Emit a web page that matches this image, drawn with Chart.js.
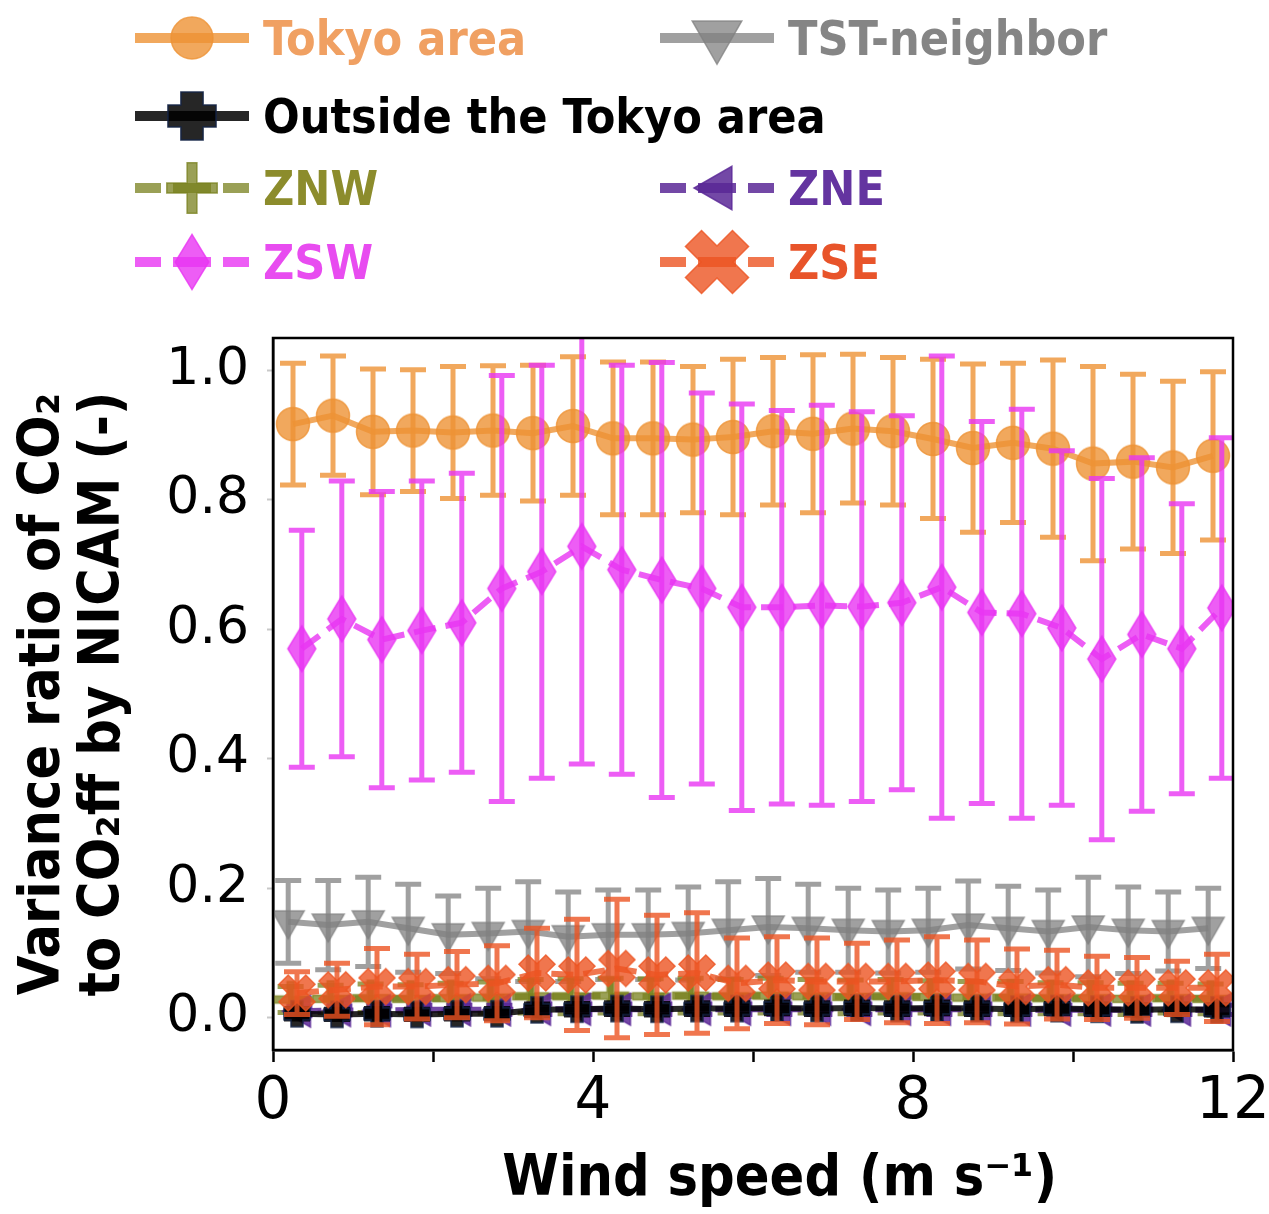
<!DOCTYPE html>
<html>
<head>
<meta charset="utf-8">
<script src="https://cdn.jsdelivr.net/npm/chart.js@4.4.1/dist/chart.umd.min.js"></script>
<style>
    body { margin: 0; background: #fff; }
    #wrap { position: relative; width: 1269px; height: 1214px; }
    #chart { position: absolute; left: 0; top: 0; }
    .leg {
        position: absolute;
        display: flex;
        align-items: center;
        height: 80px;
        font-family: "DejaVu Sans Condensed", "DejaVu Sans", sans-serif;
        font-weight: bold;
        font-size: 48px;
        white-space: nowrap;
    }
    .leg canvas { margin-right: 14px; }
</style>
</head>
<body>
<div id="wrap">
    <canvas id="chart" width="1269" height="1214"></canvas>
    <div id="legend"></div>
</div>
<script>
"use strict";

// Vindhastighetsklasser (mittpunkt, m/s)
const windBins = [0.25, 0.75, 1.25, 1.75, 2.25, 2.75, 3.25, 3.75, 4.25, 4.75, 5.25, 5.75,
                  6.25, 6.75, 7.25, 7.75, 8.25, 8.75, 9.25, 9.75, 10.25, 10.75, 11.25, 11.75];

const tokyoMean = [0.917, 0.930, 0.905, 0.907, 0.904, 0.907, 0.903, 0.914, 0.895, 0.895, 0.893, 0.897,
                   0.906, 0.902, 0.910, 0.906, 0.894, 0.880, 0.888, 0.879, 0.856, 0.859, 0.850, 0.868];
const tokyoStd = [0.094, 0.092, 0.097, 0.094, 0.102, 0.100, 0.105, 0.107, 0.118, 0.118, 0.113, 0.120,
                  0.114, 0.122, 0.115, 0.114, 0.123, 0.130, 0.123, 0.137, 0.150, 0.135, 0.133, 0.130];

const tstMean = [0.148, 0.143, 0.148, 0.138, 0.128, 0.130, 0.133, 0.125, 0.128, 0.128, 0.130, 0.135,
                 0.140, 0.138, 0.135, 0.133, 0.135, 0.143, 0.138, 0.133, 0.140, 0.135, 0.133, 0.138];
const tstStd = [0.064, 0.069, 0.069, 0.068, 0.060, 0.070, 0.077, 0.069, 0.069, 0.069, 0.072, 0.075,
                0.075, 0.068, 0.065, 0.064, 0.065, 0.068, 0.065, 0.064, 0.077, 0.067, 0.061, 0.062];

const outsideMean = [0.006, 0.005, 0.006, 0.005, 0.006, 0.006, 0.012, 0.013, 0.014, 0.013, 0.014, 0.014,
                     0.015, 0.014, 0.015, 0.014, 0.015, 0.014, 0.013, 0.014, 0.013, 0.012, 0.013, 0.012];
const outsideStd = [0.008, 0.008, 0.008, 0.008, 0.008, 0.008, 0.009, 0.009, 0.009, 0.009, 0.009, 0.009,
                    0.009, 0.009, 0.009, 0.009, 0.009, 0.009, 0.008, 0.008, 0.008, 0.008, 0.008, 0.008];

const znwMean = [0.028, 0.029, 0.030, 0.029, 0.030, 0.031, 0.033, 0.033, 0.034, 0.033, 0.034, 0.033,
                 0.034, 0.033, 0.032, 0.033, 0.032, 0.031, 0.031, 0.030, 0.030, 0.029, 0.030, 0.029];
const znwStd = [0.020, 0.021, 0.022, 0.022, 0.023, 0.024, 0.026, 0.027, 0.027, 0.027, 0.027, 0.026,
                0.027, 0.026, 0.026, 0.026, 0.025, 0.025, 0.025, 0.024, 0.024, 0.024, 0.023, 0.023];

const zneMean = [0.010, 0.011, 0.011, 0.012, 0.012, 0.012, 0.013, 0.013, 0.013, 0.013, 0.013, 0.013,
                 0.013, 0.013, 0.013, 0.013, 0.013, 0.013, 0.012, 0.012, 0.012, 0.012, 0.012, 0.012];
const zneStd = [0.007, 0.007, 0.007, 0.007, 0.007, 0.007, 0.008, 0.008, 0.008, 0.008, 0.008, 0.008,
                0.008, 0.008, 0.008, 0.008, 0.008, 0.008, 0.007, 0.007, 0.007, 0.007, 0.007, 0.007];

const zswMean = [0.570, 0.616, 0.584, 0.598, 0.610, 0.663, 0.689, 0.728, 0.692, 0.676, 0.663, 0.634,
                 0.634, 0.637, 0.635, 0.641, 0.665, 0.626, 0.624, 0.602, 0.554, 0.592, 0.570, 0.633];
const zswStd = [0.183, 0.213, 0.229, 0.231, 0.231, 0.329, 0.319, 0.336, 0.316, 0.336, 0.302, 0.314,
                0.304, 0.309, 0.301, 0.289, 0.357, 0.295, 0.316, 0.274, 0.279, 0.273, 0.224, 0.263];

const zseMean = [0.038, 0.043, 0.048, 0.048, 0.051, 0.053, 0.069, 0.066, 0.076, 0.066, 0.069, 0.053,
                 0.058, 0.056, 0.056, 0.056, 0.058, 0.056, 0.048, 0.051, 0.046, 0.046, 0.046, 0.046];
const zseStd = [0.033, 0.041, 0.059, 0.050, 0.051, 0.058, 0.069, 0.086, 0.107, 0.092, 0.093, 0.070,
                0.067, 0.067, 0.059, 0.064, 0.067, 0.064, 0.058, 0.053, 0.049, 0.047, 0.041, 0.052];

const xTicks = [0, 2, 4, 6, 8, 10, 12];
const xLabelled = [0, 4, 8, 12];
const yTicks = [0, 0.2, 0.4, 0.6, 0.8, 1.0];

// Serier i legendordning; z = ritordning (högre hamnar överst)
const series = [
    { label: "Tokyo area", mean: tokyoMean, std: tokyoStd, shift: 0, z: 0, color: "rgba(238,146,52,0.8)",
      text: "#f0a062", shape: "circle", dashed: false, legendScale: 1.27 },
    { label: "TST-neighbor", mean: tstMean, std: tstStd, shift: -0.06, z: 1, color: "rgba(128,128,128,0.75)",
      text: "#858585", shape: "triDown", dashed: false, legendScale: 1.55 },
    { label: "Outside the Tokyo area", mean: outsideMean, std: outsideStd, shift: 0.05, z: 4, color: "rgba(0,0,0,0.85)",
      edge: "rgba(20,35,70,0.9)", text: "#000", shape: "plusFilled", dashed: false, legendScale: 1.85 },
    { label: "ZNW", mean: znwMean, std: znwStd, shift: -0.03, z: 2, color: "rgba(120,128,30,0.75)",
      text: "#8c8c2c", shape: "plus", dashed: true, legendScale: 1.4 },
    { label: "ZNE", mean: zneMean, std: zneStd, shift: 0.08, z: 3, color: "rgba(90,40,150,0.85)",
      text: "#6434a0", shape: "triLeft", dashed: true, legendScale: 1.35 },
    { label: "ZSW", mean: zswMean, std: zswStd, shift: 0.11, z: 5, color: "rgba(232,52,242,0.8)",
      text: "#e84cf0", shape: "diamond", dashed: true, legendScale: 1.2 },
    { label: "ZSE", mean: zseMean, std: zseStd, shift: 0.05, z: 6, color: "rgba(236,84,34,0.8)",
      text: "#e8542a", shape: "xFilled", dashed: true, legendScale: 1.75 }
];

// Legendens placering (kolumn x, rad y)
const legendPos = [[135, 38], [660, 38], [135, 116], [135, 188], [660, 188], [135, 262], [660, 262]];

function polygon(ctx, pts, cx, cy, k, rot) {
    const c = Math.cos(rot), s = Math.sin(rot);
    pts.forEach(([px, py], i) => {
        const x = cx + k * (px * c - py * s);
        const y = cy + k * (px * s + py * c);
        if (i === 0) ctx.moveTo(x, y); else ctx.lineTo(x, y);
    });
    ctx.closePath();
}

function plusPts(a, t) {
    return [[t, a], [t, t], [a, t], [a, -t], [t, -t], [t, -a], [-t, -a], [-t, -t], [-a, -t], [-a, t], [-t, t], [-t, a]];
}

function drawMarker(ctx, s, cx, cy, k) {
    ctx.fillStyle = s.color;
    ctx.strokeStyle = s.edge || s.color;
    ctx.lineWidth = 1.5;
    ctx.setLineDash([]);
    ctx.beginPath();
    switch (s.shape) {
        case "circle": ctx.arc(cx, cy, 16.5 * k, 0, Math.PI * 2); break;
        case "triDown": polygon(ctx, [[-16, -11], [16, -11], [0, 17]], cx, cy, k, 0); break;
        case "triLeft": polygon(ctx, [[11, -16], [11, 16], [-17, 0]], cx, cy, k, 0); break;
        case "diamond": polygon(ctx, [[0, -23], [14, 0], [0, 23], [-14, 0]], cx, cy, k, 0); break;
        case "plusFilled": polygon(ctx, plusPts(13, 6), cx, cy, k, 0); break;
        case "plus": polygon(ctx, plusPts(18, 3.5), cx, cy, k, 0); break;
        case "xFilled": polygon(ctx, plusPts(19, 6.5), cx, cy, k, Math.PI / 4); break;
    }
    ctx.fill();
    ctx.stroke();
}

function markerCanvas(s) {
    const c = document.createElement("canvas");
    c.width = 60;
    c.height = 60;
    drawMarker(c.getContext("2d"), s, 30, 30, 1);
    return c;
}

function legendIcon(s) {
    const c = document.createElement("canvas");
    c.width = 114;
    c.height = 80;
    const ctx = c.getContext("2d");
    ctx.strokeStyle = s.color;
    ctx.lineWidth = 10;
    ctx.setLineDash(s.dashed ? [26, 12, 38, 12, 26] : []);
    ctx.beginPath();
    ctx.moveTo(0, 40);
    ctx.lineTo(114, 40);
    ctx.stroke();
    drawMarker(ctx, s, 57, 40, s.legendScale);
    return c;
}

// Felstaplar ritas före varje serie, via diagrammets egna skalor
const errorBars = {
    id: "errorBars",
    beforeDatasetDraw(chart, args) {
        const ds = chart.data.datasets[args.index];
        if (!ds.errors) return;
        const { ctx, chartArea, scales } = chart;
        ctx.save();
        ctx.beginPath();
        ctx.rect(chartArea.left, chartArea.top, chartArea.width, chartArea.height);
        ctx.clip();
        ctx.strokeStyle = ds.borderColor;
        ctx.lineWidth = 5;
        ctx.setLineDash([]);
        ds.data.forEach((p, i) => {
            const x = scales.x.getPixelForValue(p.x);
            const top = scales.y.getPixelForValue(p.y + ds.errors[i]);
            const bot = scales.y.getPixelForValue(p.y - ds.errors[i]);
            ctx.beginPath();
            ctx.moveTo(x, top);
            ctx.lineTo(x, bot);
            ctx.moveTo(x - 13, top);
            ctx.lineTo(x + 13, top);
            ctx.moveTo(x - 13, bot);
            ctx.lineTo(x + 13, bot);
            ctx.stroke();
        });
        ctx.restore();
    }
};

// Ram runt ritytan
const frame = {
    id: "frame",
    afterDatasetsDraw(chart) {
        const { ctx, chartArea } = chart;
        ctx.save();
        ctx.strokeStyle = "#000";
        ctx.lineWidth = 2.5;
        ctx.strokeRect(chartArea.left, chartArea.top, chartArea.width, chartArea.height);
        ctx.restore();
    }
};

const datasets = series.map(s => ({
    label: s.label,
    data: windBins.map((w, j) => ({ x: w + s.shift, y: s.mean[j] })),
    errors: s.std,
    borderColor: s.color,
    borderWidth: 6,
    borderDash: s.dashed ? [22, 10] : [],
    pointStyle: markerCanvas(s),
    pointRadius: 16,
    tension: 0,
    order: 10 - s.z
}));

const titleFont = { family: "'DejaVu Sans Condensed', 'DejaVu Sans'", size: 57, weight: "bold", lineHeight: 1.05 };

new Chart(document.getElementById("chart"), {
    type: "line",
    data: { datasets },
    options: {
        responsive: false,
        animation: false,
        devicePixelRatio: 1,
        layout: { padding: { top: 338, right: 36, left: 0, bottom: 0 } },
        plugins: { legend: { display: false }, tooltip: { enabled: false } },
        scales: {
            x: {
                type: "linear",
                min: 0,
                max: 12,
                afterBuildTicks: scale => { scale.ticks = xTicks.map(v => ({ value: v })); },
                afterFit: scale => {
                    scale.height = 164;
                    scale.paddingLeft = 0;
                    scale.paddingRight = 0;
                },
                grid: { drawOnChartArea: false, tickLength: 12, tickWidth: 2.5, tickColor: "#000" },
                border: { color: "#000", width: 2.5 },
                ticks: {
                    callback: v => xLabelled.includes(v) ? String(v) : "",
                    font: { family: "'DejaVu Sans'", size: 58 },
                    color: "#000",
                    padding: 6,
                    maxRotation: 0,
                    autoSkip: false
                },
                title: {
                    display: true,
                    text: "   Wind speed (m s⁻¹)",
                    font: titleFont,
                    color: "#000",
                    padding: { top: 10 }
                }
            },
            y: {
                min: -0.05,
                max: 1.05,
                afterBuildTicks: scale => { scale.ticks = yTicks.map(v => ({ value: v })); },
                afterFit: scale => {
                    scale.width = 273;
                    scale.paddingTop = 0;
                    scale.paddingBottom = 0;
                },
                grid: { drawOnChartArea: false, tickLength: 6, tickWidth: 2, tickColor: "#c8c8c8" },
                border: { color: "#000", width: 2.5 },
                ticks: { callback: v => v.toFixed(1), font: { family: "'DejaVu Sans'", size: 52 }, color: "#000", padding: 18 },
                title: {
                    display: true,
                    text: ["Variance ratio of CO₂", "to CO₂ff by NICAM (-)"],
                    font: titleFont,
                    color: "#000",
                    padding: { top: 14, bottom: 0 }
                }
            }
        }
    },
    plugins: [errorBars, frame]
});

// HTML-legend i två kolumner
const legend = document.getElementById("legend");
series.forEach((s, i) => {
    const item = document.createElement("div");
    item.className = "leg";
    item.style.left = legendPos[i][0] + "px";
    item.style.top = (legendPos[i][1] - 40) + "px";
    item.style.color = s.text;
    item.appendChild(legendIcon(s));
    const span = document.createElement("span");
    span.textContent = s.label;
    item.appendChild(span);
    legend.appendChild(item);
});
</script>
</body>
</html>
